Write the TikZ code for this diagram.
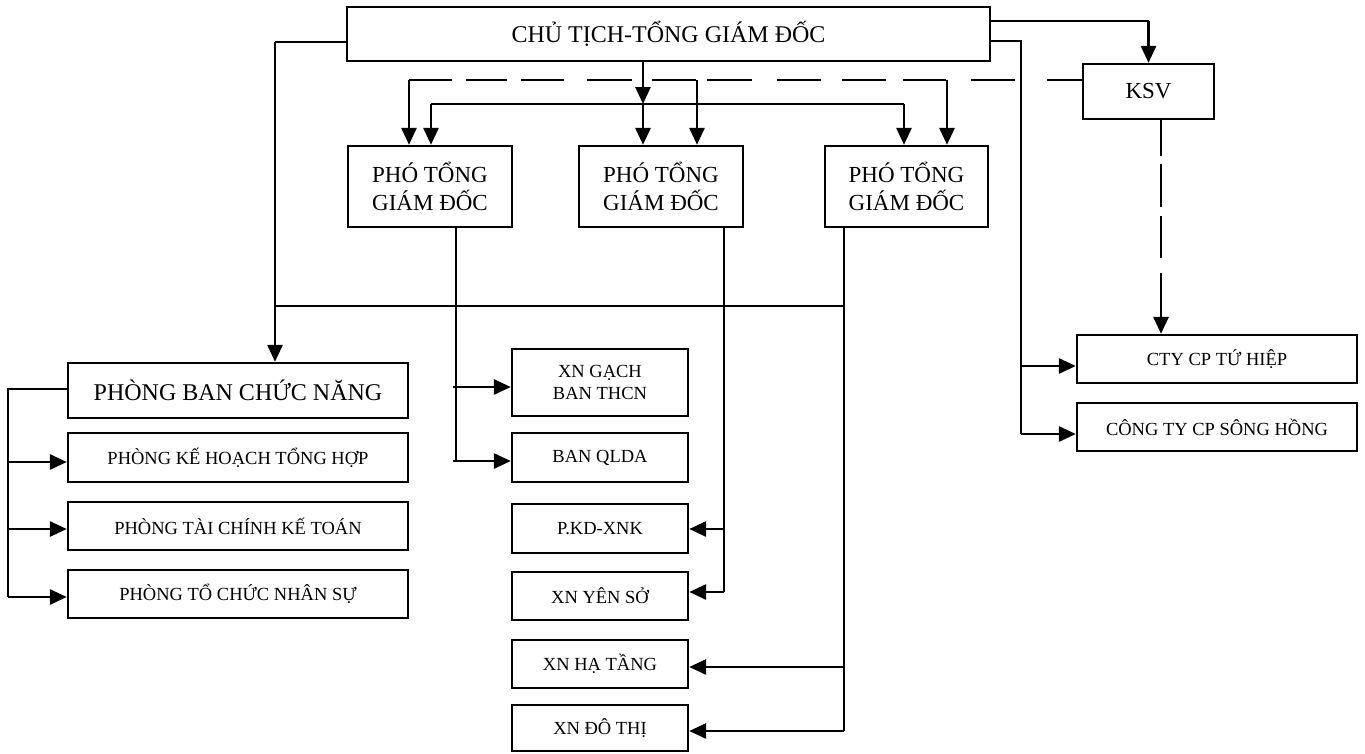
\documentclass[tikz,border=0pt]{standalone}
\usepackage{fontspec}
\setmainfont{Liberation Serif}
\usetikzlibrary{arrows.meta}
\begin{document}
\begin{tikzpicture}[x=1pt,y=-1pt,
  box/.style={draw, line width=2.3pt, inner sep=0pt, align=center},
  big/.style={font=\fontsize{24}{28}\selectfont},
  mid/.style={font=\fontsize{23}{28}\selectfont},
  small/.style={font=\fontsize{18.5}{22}\selectfont},
  conn/.style={line width=2pt},
  arr/.style={line width=2.8pt, -{Triangle[length=17pt,width=15pt]}},
]
\useasboundingbox (0,0) rectangle (1365,753);

% nodes
\node[box,big,minimum width=643pt,minimum height=54pt] (T) at (668.5,34) {CHỦ TỊCH-TỔNG GIÁM ĐỐC};
\node[box,mid,minimum width=131pt,minimum height=55pt] (KSV) at (1148.5,91.5) {KSV};
\node[box,mid,minimum width=164pt,minimum height=81pt] (P1) at (430,186.5) {PHÓ TỔNG\\GIÁM ĐỐC};
\node[box,mid,minimum width=164pt,minimum height=81pt] (P2) at (661,186.5) {PHÓ TỔNG\\GIÁM ĐỐC};
\node[box,mid,minimum width=163pt,minimum height=81pt] (P3) at (906.5,186.5) {PHÓ TỔNG\\GIÁM ĐỐC};

\node[box,big,minimum width=340pt,minimum height=55pt] (PB) at (238,390.5) {PHÒNG BAN CHỨC NĂNG};
\node[box,small,minimum width=340pt,minimum height=49pt] (PKH) at (238,457.5) {PHÒNG KẾ HOẠCH TỔNG HỢP};
\node[box,small,minimum width=340pt,minimum height=48pt] (PTC) at (238,526) {PHÒNG TÀI CHÍNH KẾ TOÁN};
\node[box,small,minimum width=340pt,minimum height=48pt] (PNS) at (238,594) {PHÒNG TỔ CHỨC NHÂN SỰ};

\node[box,small,minimum width=176pt,minimum height=67pt] (XG) at (600,382.5) {XN GẠCH\\BAN THCN};
\node[box,small,minimum width=176pt,minimum height=49pt] (QL) at (600,457.5) {BAN QLDA};
\node[box,small,minimum width=176pt,minimum height=49pt] (KD) at (600,528.5) {P.KD-XNK};
\node[box,small,minimum width=176pt,minimum height=48pt] (YS) at (600,596) {XN YÊN SỞ};
\node[box,small,minimum width=176pt,minimum height=48pt] (HT) at (600,664) {XN HẠ TẦNG};
\node[box,small,minimum width=176pt,minimum height=46pt] (DT) at (600,728) {XN ĐÔ THỊ};

\node[box,small,minimum width=280pt,minimum height=48pt] (TH) at (1217,359) {CTY CP TỨ HIỆP};
\node[box,small,minimum width=280pt,minimum height=48pt] (SH) at (1217,427) {CÔNG TY CP SÔNG HỒNG};

% turning points
\coordinate (l1) at (275,42);
\coordinate (k1) at (1148.5,21);
\coordinate (r1) at (1021,41);
\coordinate (r2) at (1021,434);
\coordinate (m1) at (643,104);
\coordinate (s1) at (431,104);
\coordinate (s2) at (904,104);
\coordinate (d1) at (409,80);
\coordinate (d2) at (697,80);
\coordinate (d3) at (947,80);
\coordinate (h1) at (275,306);
\coordinate (h2) at (844,306);
\coordinate (a1) at (456,461);
\coordinate (b1) at (724,592);
\coordinate (c1) at (844,731);
\coordinate (e1) at (8,389);
\coordinate (e2) at (8,597);

% top box to PHONG BAN
\draw[conn] (T.west |- l1) -- (l1);
\draw[arr] (l1) -- (l1 |- PB.north);
% top box to KSV
\draw[conn] (T.east |- k1) -- (k1);
\draw[arr] (k1) -- (KSV.north);
% top box to companies
\draw[conn] (T.east |- r1) -- (r1) -- (r2);
\draw[arr] (1021,366) -- (TH.west |- 0,366);
\draw[arr] (r2) -- (SH.west |- r2);
% KSV to companies (dashed)
\draw[arr, dash pattern=on 36pt off 8pt on 43pt off 9pt on 42pt off 15pt on 300pt] (KSV.south -| 1161,0) -- (TH.north -| 1161,0);
% top box to deputies (solid)
\draw[arr] (T.south -| m1) -- (m1);
\draw[conn] (s1) -- (s2);
\draw[arr] (s1) -- (s1 |- P1.north);
\draw[arr] (m1) -- (m1 |- P2.north);
\draw[arr] (s2) -- (s2 |- P3.north);
% KSV to deputies (dashed)
\draw[conn, dash pattern=on 35pt off 32pt on 44pt off 25pt on 43pt off 17pt on 44pt off 21pt on 44pt off 25pt on 45pt off 11pt on 44pt off 20pt on 45pt off 23pt on 43pt off 14pt on 41pt off 14pt on 60pt] (KSV.west |- d1) -- (d1);
\draw[arr] (d1) -- (d1 |- P1.north);
\draw[arr] (d2) -- (d2 |- P2.north);
\draw[arr] (d3) -- (d3 |- P3.north);

% deputies down
\draw[conn] (h1) -- (h2);
\draw[conn] (P1.south -| a1) -- (a1);
\draw[arr] (453,387) -- (XG.west |- 0,387);
\draw[arr] (453,461) -- (QL.west |- a1);
\draw[conn] (P2.south -| b1) -- (b1);
\draw[arr] (724,529) -- (KD.east |- 0,529);
\draw[arr] (b1) -- (YS.east |- b1);
\draw[conn] (P3.south -| c1) -- (c1);
\draw[arr] (844,667) -- (HT.east |- 0,667);
\draw[arr] (c1) -- (DT.east |- c1);

% PHONG BAN to departments
\draw[conn] (PB.west |- e1) -- (e1) -- (e2);
\draw[arr] (8,462) -- (PKH.west |- 0,462);
\draw[arr] (8,529) -- (PTC.west |- 0,529);
\draw[arr] (e2) -- (PNS.west |- e2);
\end{tikzpicture}
\end{document}
